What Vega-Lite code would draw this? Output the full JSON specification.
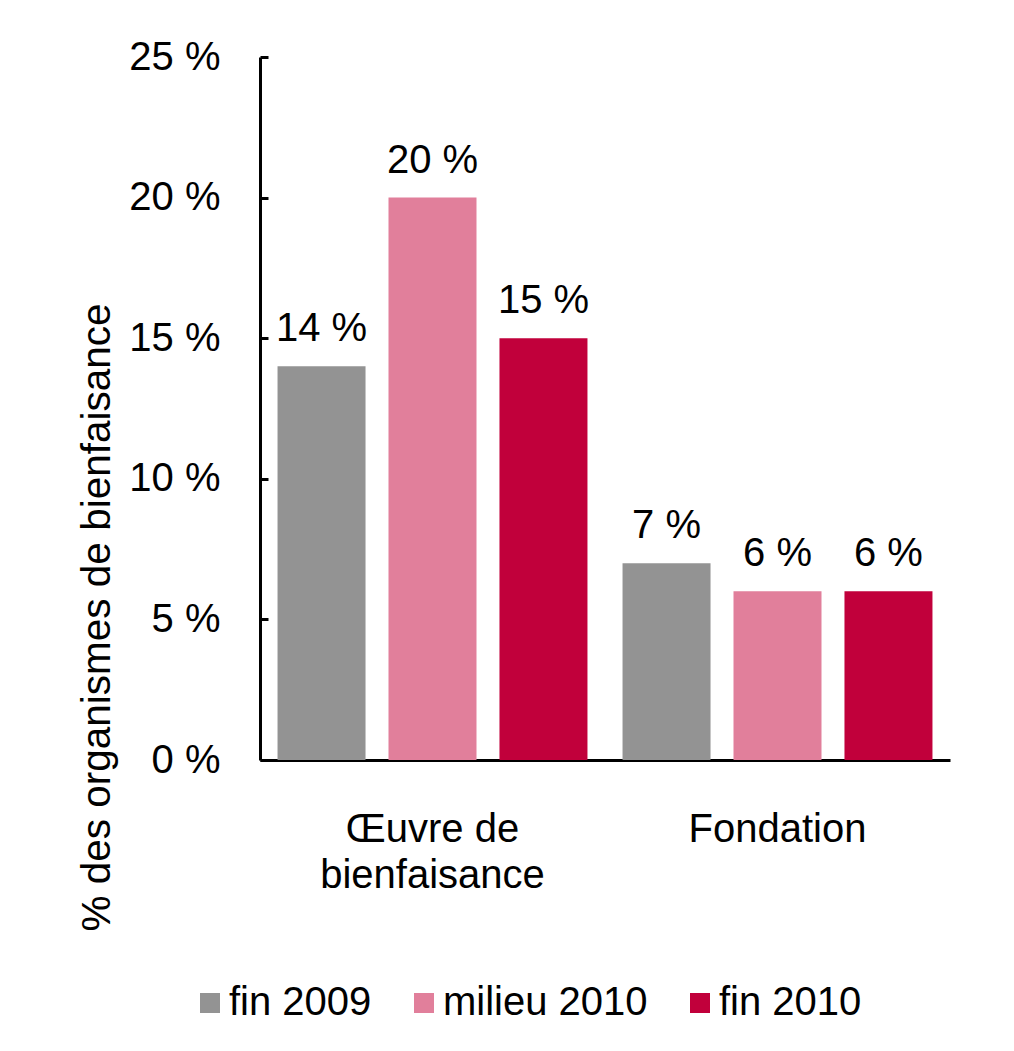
{
  "$schema": "https://vega.github.io/schema/vega-lite/v6.json",
  "autosize": "none",
  "width": 690,
  "height": 703,
  "padding": {"left": 260, "top": 57, "right": 64, "bottom": 291},
  "background": "white",
  "config": {
    "view": {"stroke": null},
    "font": "Liberation Sans",
    "text": {"font": "Liberation Sans"}
  },
  "data": {
    "values": [
      {"type": "Œuvre de bienfaisance", "periode": "fin 2009", "value": 14},
      {"type": "Œuvre de bienfaisance", "periode": "milieu 2010", "value": 20},
      {"type": "Œuvre de bienfaisance", "periode": "fin 2010", "value": 15},
      {"type": "Fondation", "periode": "fin 2009", "value": 7},
      {"type": "Fondation", "periode": "milieu 2010", "value": 6},
      {"type": "Fondation", "periode": "fin 2010", "value": 6}
    ]
  },
  "transform": [{"calculate": "datum.value + ' %'", "as": "label"}],
  "encoding": {
    "x": {
      "field": "type",
      "type": "nominal",
      "sort": ["Œuvre de bienfaisance", "Fondation"],
      "scale": {"paddingInner": 0, "paddingOuter": 0},
      "axis": {
        "title": null,
        "labelAngle": 0,
        "ticks": false,
        "domainColor": "black",
        "domainWidth": 3,
        "labelFont": "Liberation Sans",
        "labelFontSize": 40,
        "labelColor": "black",
        "labelPadding": 49,
        "labelBaseline": "top",
        "labelLineHeight": 46,
        "labelLimit": 600,
        "labelExpr": "datum.label == 'Œuvre de bienfaisance' ? ['Œuvre de', 'bienfaisance'] : datum.label"
      }
    },
    "xOffset": {
      "field": "periode",
      "type": "nominal",
      "sort": ["fin 2009", "milieu 2010", "fin 2010"],
      "scale": {"paddingInner": 0.207, "paddingOuter": 0.158}
    },
    "y": {
      "field": "value",
      "type": "quantitative",
      "scale": {"domain": [0, 25], "nice": false},
      "axis": {
        "title": "% des organismes de bienfaisance",
        "titleFont": "Liberation Sans",
        "titleFontSize": 40.5,
        "titleFontWeight": "normal",
        "titleColor": "black",
        "titleX": -163,
        "titleY": 560,
        "titleAngle": -90,
        "titleAlign": "center",
        "titleBaseline": "middle",
        "values": [0, 5, 10, 15, 20, 25],
        "grid": false,
        "domainColor": "black",
        "domainWidth": 3,
        "tickColor": "black",
        "tickWidth": 3,
        "tickSize": -8,
        "labelFont": "Liberation Sans",
        "labelFontSize": 40,
        "labelColor": "black",
        "labelPadding": 48,
        "labelExpr": "datum.value + ' %'"
      }
    }
  },
  "layer": [
    {
      "mark": {"type": "bar"},
      "encoding": {
        "color": {
          "field": "periode",
          "type": "nominal",
          "sort": ["fin 2009", "milieu 2010", "fin 2010"],
          "scale": {
            "domain": ["fin 2009", "milieu 2010", "fin 2010"],
            "range": ["#939393", "#E17F9B", "#C1003B"]
          },
          "legend": {
            "title": null,
            "orient": "none",
            "direction": "horizontal",
            "legendX": -70,
            "legendY": 926,
            "symbolType": "square",
            "symbolSize": 400,
            "symbolStrokeWidth": 0,
            "symbolOpacity": 1,
            "labelFont": "Liberation Sans",
            "labelFontSize": 40,
            "labelColor": "black",
            "labelOffset": -1,
            "columnPadding": 32,
            "labelLimit": 400
          }
        }
      }
    },
    {
      "mark": {
        "type": "text",
        "baseline": "alphabetic",
        "dy": -25,
        "font": "Liberation Sans",
        "fontSize": 40,
        "color": "black"
      },
      "encoding": {
        "text": {"field": "label"}
      }
    }
  ]
}
